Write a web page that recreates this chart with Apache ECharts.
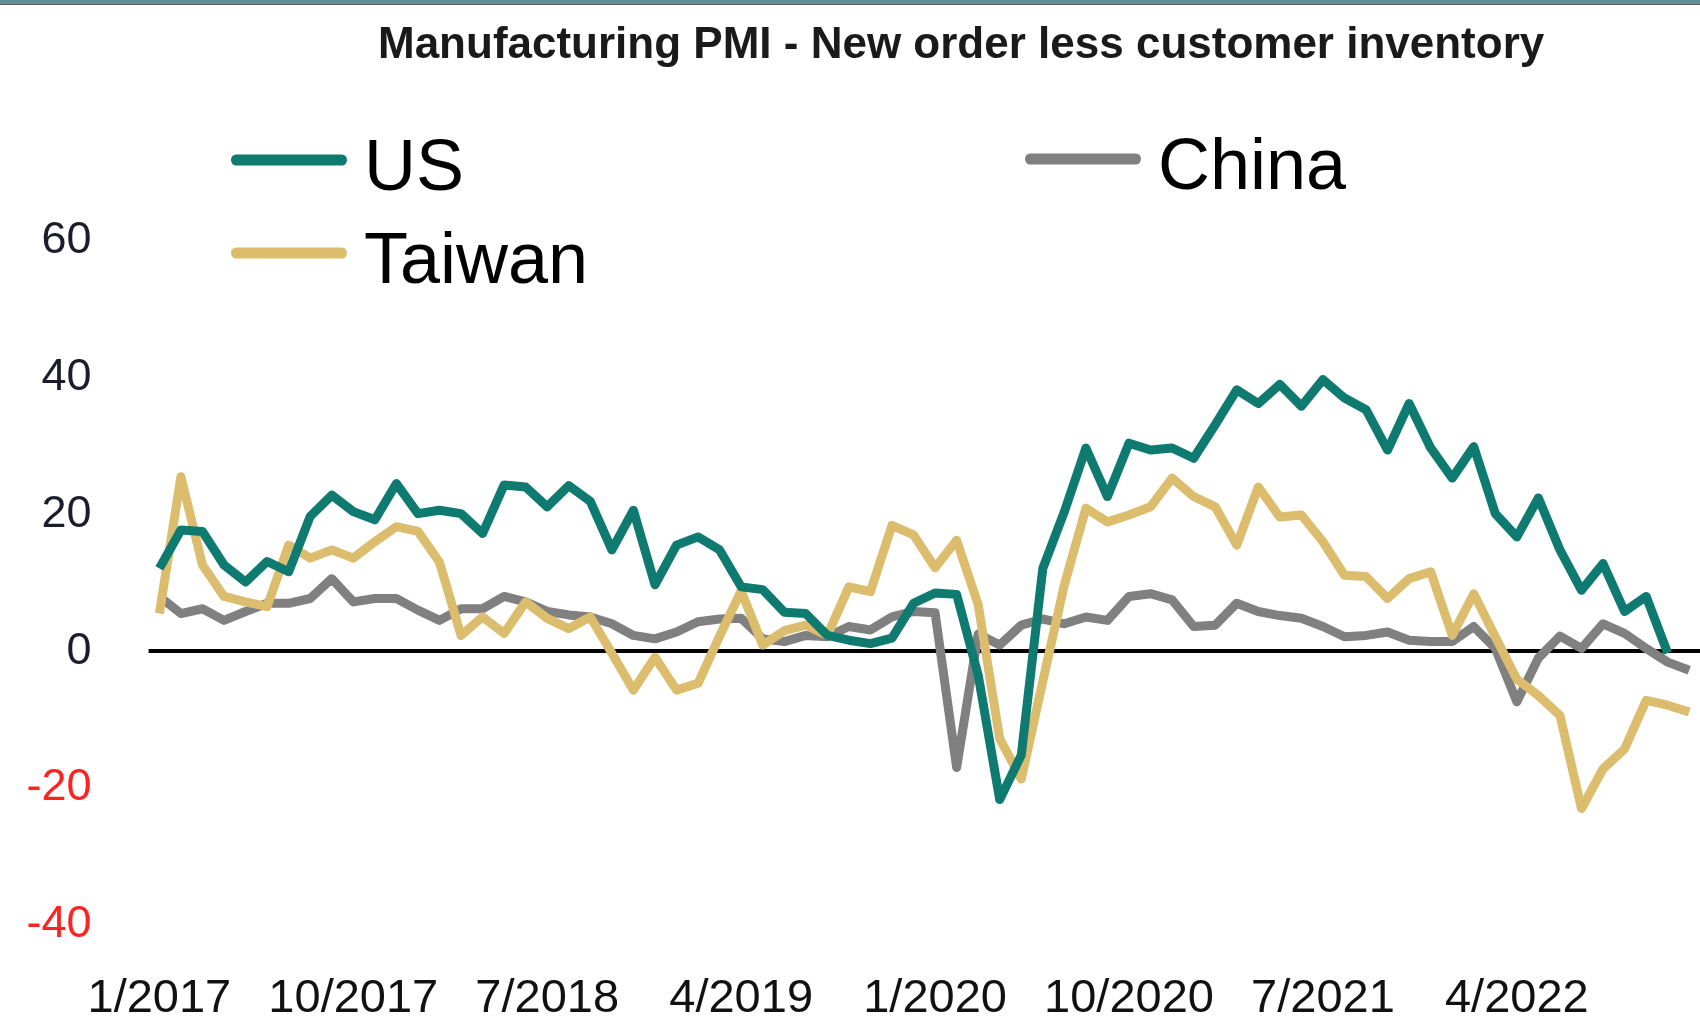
<!DOCTYPE html>
<html>
<head>
<meta charset="utf-8">
<title>Manufacturing PMI - New order less customer inventory</title>
<script src="https://cdn.jsdelivr.net/npm/echarts@6/dist/echarts.min.js"></script>
<style>
  html, body { margin: 0; padding: 0; background: #ffffff; }
  #chart { width: 1700px; height: 1024px; }
</style>
</head>
<body>
<div id="chart"></div>
<script>
// Monthly observations, Jan 2017 - Dec 2022
const months = [
  '1/2017','2/2017','3/2017','4/2017','5/2017','6/2017','7/2017','8/2017','9/2017','10/2017','11/2017','12/2017',
  '1/2018','2/2018','3/2018','4/2018','5/2018','6/2018','7/2018','8/2018','9/2018','10/2018','11/2018','12/2018',
  '1/2019','2/2019','3/2019','4/2019','5/2019','6/2019','7/2019','8/2019','9/2019','10/2019','11/2019','12/2019',
  '1/2020','2/2020','3/2020','4/2020','5/2020','6/2020','7/2020','8/2020','9/2020','10/2020','11/2020','12/2020',
  '1/2021','2/2021','3/2021','4/2021','5/2021','6/2021','7/2021','8/2021','9/2021','10/2021','11/2021','12/2021',
  '1/2022','2/2022','3/2022','4/2022','5/2022','6/2022','7/2022','8/2022','9/2022','10/2022','11/2022','12/2022'
];

// New orders minus customers' inventories (index points)
const usValues = [
  12.1, 17.7, 17.5, 12.6, 10.1, 13.1, 11.6, 19.7, 22.8, 20.4, 19.2, 24.5,
  20.1, 20.6, 20.1, 17.2, 24.3, 24.0, 21.1, 24.2, 21.9, 14.8, 20.6, 9.7,
  15.5, 16.7, 14.8, 9.4, 9.0, 5.7, 5.5, 2.3, 1.6, 1.1, 1.9, 7.0,
  8.5, 8.3, -3.5, -21.7, -15.2, 12.1, 20.4, 29.7, 22.6, 30.4, 29.4, 29.7,
  28.2, 33.1, 38.2, 36.2, 39.0, 35.8, 39.7, 37.0, 35.3, 29.4, 36.2, 29.7,
  25.3, 29.9, 20.1, 16.7, 22.4, 14.8, 8.9, 12.8, 5.8, 8.0, -0.3, null
];

const taiwanValues = [
  5.5, 25.5, 12.6, 8.0, 7.2, 6.5, 15.5, 13.6, 14.8, 13.6, 16.0, 18.2,
  17.5, 13.0, 2.3, 5.0, 2.6, 7.2, 4.8, 3.3, 5.0, -0.3, -5.7, -0.9,
  -5.7, -4.7, 2.2, 8.8, 0.9, 3.0, 3.8, 2.3, 9.4, 8.7, 18.4, 17.0,
  12.2, 16.2, 6.8, -12.8, -18.7, -4.4, 9.7, 20.9, 18.9, 19.9, 21.1, 25.3,
  22.6, 21.1, 15.5, 24.0, 19.6, 19.9, 16.0, 11.1, 10.9, 7.7, 10.6, 11.6,
  2.3, 8.4, 2.1, -4.1, -6.5, -9.4, -23.0, -17.2, -14.3, -7.2, -7.9, -8.9
];

const chinaValues = [
  8.0, 5.5, 6.2, 4.5, 5.8, 7.0, 7.0, 7.7, 10.6, 7.2, 7.7, 7.7,
  6.0, 4.5, 6.2, 6.2, 8.0, 7.2, 5.8, 5.3, 5.0, 4.0, 2.3, 1.8,
  2.8, 4.3, 4.7, 4.8, 1.8, 1.4, 2.3, 2.1, 3.6, 3.1, 5.0, 5.8,
  5.6, -17.0, 2.5, 0.9, 3.8, 4.7, 4.0, 5.0, 4.5, 8.0, 8.4, 7.5,
  3.6, 3.8, 7.0, 5.8, 5.2, 4.8, 3.6, 2.1, 2.3, 2.8, 1.6, 1.4,
  1.4, 3.6, 0.4, -7.4, -1.0, 2.2, 0.4, 4.0, 2.6, 0.4, -1.6, -2.8
];

// Labelled months on the category axis
const xTickLabels = ['1/2017', '10/2017', '7/2018', '4/2019', '1/2020', '10/2020', '7/2021', '4/2022'];

// Value axis range and step
const yMin = -40;
const yMax = 60;
const yStep = 20;

const COLORS = { us: '#0f7a70', taiwan: '#dcbd6e', china: '#808080' };
const FONT = '"Liberation Sans", Arial, sans-serif';
const CAPSULE = 'path://M5,0L111,0A5,5,0,0,1,111,10L5,10A5,5,0,0,1,5,0Z';

function legendAt(name, left, top) {
  return {
    data: [name],
    left: left,
    top: top,
    padding: 0,
    orient: 'horizontal',
    icon: CAPSULE,
    itemWidth: 116,
    itemHeight: 11,
    symbolKeepAspect: false,
    selectedMode: false,
    formatter: '{t|{name}}',
    textStyle: {
      fontFamily: FONT,
      fontSize: 72,
      lineHeight: 76,
      color: '#000000',
      rich: {
        t: {
          fontFamily: FONT,
          fontSize: 72,
          lineHeight: 76,
          color: '#000000',
          padding: [20, 0, 0, 12]
        }
      }
    }
  };
}

const chart = echarts.init(document.getElementById('chart'), null, { renderer: 'canvas' });

chart.setOption({
  backgroundColor: '#ffffff',
  animation: false,
  title: {
    text: 'Manufacturing PMI - New order less customer inventory',
    left: 378,
    top: 24,
    padding: 0,
    textStyle: {
      fontFamily: FONT,
      fontWeight: 'bold',
      fontSize: 44,
      color: '#1a1a1a'
    }
  },
  graphic: [
    { type: 'rect', shape: { x: 0, y: 0, width: 1700, height: 3.5 }, style: { fill: '#5b8e96' }, silent: true },
    { type: 'rect', shape: { x: 0, y: 3.5, width: 1700, height: 1.5 }, style: { fill: '#555555' }, silent: true }
  ],
  legend: [
    legendAt('US', 231, 114),
    legendAt('China', 1025, 113),
    legendAt('Taiwan', 231, 207)
  ],
  grid: {
    left: 148.6,
    top: 240.7,
    width: 1556.6,
    height: 684.1,
    containLabel: false
  },
  xAxis: {
    type: 'category',
    data: months,
    boundaryGap: true,
    axisLine: { show: false },
    axisTick: { show: false },
    splitLine: { show: false },
    axisLabel: {
      interval: (idx, val) => xTickLabels.includes(val),
      fontFamily: FONT,
      fontSize: 47,
      color: '#111111',
      margin: 51
    }
  },
  yAxis: {
    type: 'value',
    min: yMin,
    max: yMax,
    interval: yStep,
    axisLine: { show: false },
    axisTick: { show: false },
    splitLine: { show: false },
    axisLabel: {
      fontFamily: FONT,
      fontSize: 45,
      margin: 57,
      color: (v) => (Number(v) < 0 ? '#ff2222' : '#1c1c2c')
    }
  },
  series: [
    {
      name: 'China',
      type: 'line',
      data: chinaValues,
      symbol: 'none',
      z: 2,
      lineStyle: { color: COLORS.china, width: 9, join: 'round' },
      itemStyle: { color: COLORS.china }
    },
    {
      name: 'Taiwan',
      type: 'line',
      data: taiwanValues,
      symbol: 'none',
      z: 3,
      lineStyle: { color: COLORS.taiwan, width: 9, join: 'round' },
      itemStyle: { color: COLORS.taiwan }
    },
    {
      name: 'US',
      type: 'line',
      data: usValues,
      symbol: 'none',
      z: 4,
      lineStyle: { color: COLORS.us, width: 9, join: 'round' },
      itemStyle: { color: COLORS.us },
      markLine: {
        silent: true,
        symbol: 'none',
        z: 1,
        label: { show: false },
        lineStyle: { color: '#000000', width: 4, type: 'solid' },
        data: [{ yAxis: 0 }]
      }
    }
  ]
});
</script>
</body>
</html>
